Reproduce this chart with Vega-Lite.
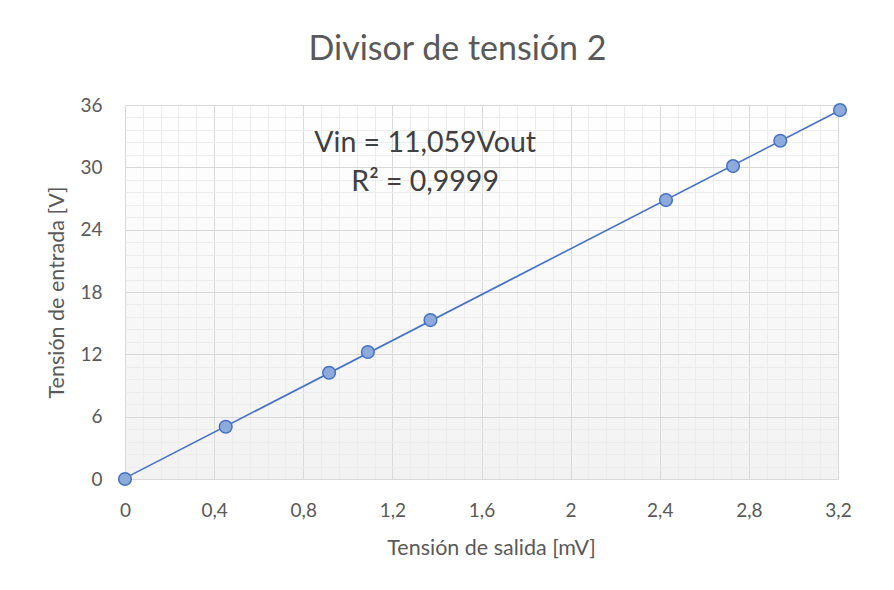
{
  "$schema": "https://vega.github.io/schema/vega-lite/v6.json",
  "width": 713,
  "height": 374,
  "autosize": {"type": "none"},
  "padding": {"left": 125, "top": 105, "right": 56, "bottom": 111},
  "background": "white",
  "config": {
    "font": "Lato",
    "view": {
      "stroke": null,
      "fill": {"gradient": "linear", "x1": 0, "y1": 0, "x2": 0, "y2": 1, "stops": [{"offset": 0, "color": "#ffffff"}, {"offset": 1, "color": "#f2f2f2"}]}
    }
  },
  "title": {
    "text": "Divisor de tensión 2",
    "font": "Lato",
    "fontSize": 34,
    "fontWeight": "normal",
    "color": "#595959",
    "anchor": "middle",
    "frame": "group",
    "dx": -24,
    "offset": 29
  },
  "data": {
    "values": [
      {"vout": 0, "vin": 0},
      {"vout": 0.452, "vin": 5.03},
      {"vout": 0.916, "vin": 10.23},
      {"vout": 1.09, "vin": 12.22},
      {"vout": 1.371, "vin": 15.3},
      {"vout": 2.428, "vin": 26.85},
      {"vout": 2.729, "vin": 30.12},
      {"vout": 2.941, "vin": 32.56},
      {"vout": 3.209, "vin": 35.51}
    ]
  },
  "layer": [
    {
      "transform": [{"regression": "vin", "on": "vout", "method": "linear", "extent": [0, 3.209]}],
      "mark": {"type": "line", "color": "#4472c4", "strokeWidth": 1.6},
      "encoding": {
        "x": {
          "field": "vout", "type": "quantitative",
          "scale": {"domain": [0, 3.2], "nice": false, "zero": true},
          "axis": {
            "orient": "top",
            "values": [0.08,0.16,0.24,0.32,0.48,0.56,0.64,0.72,0.88,0.96,1.04,1.12,1.28,1.36,1.44,1.52,1.68,1.76,1.84,1.92,2.08,2.16,2.24,2.32,2.48,2.56,2.64,2.72,2.88,2.96,3.04,3.12],
            "grid": true, "gridColor": "#ececec", "gridWidth": 1,
            "labels": false, "ticks": false, "domain": false, "title": null
          }
        },
        "y": {
          "field": "vin", "type": "quantitative",
          "scale": {"domain": [0, 36], "nice": false},
          "axis": {
            "orient": "right",
            "values": [1.2,2.4,3.6,4.8,7.2,8.4,9.6,10.8,13.2,14.4,15.6,16.8,19.2,20.4,21.6,22.8,25.2,26.4,27.6,28.8,31.2,32.4,33.6,34.8],
            "grid": true, "gridColor": "#ececec", "gridWidth": 1,
            "labels": false, "ticks": false, "domain": false, "title": null
          }
        }
      }
    },
    {
      "mark": {"type": "point", "shape": "circle", "filled": true, "size": 160, "fill": "#8eaadb", "fillOpacity": 1, "stroke": "#4472c4", "strokeWidth": 1.5, "opacity": 1},
      "encoding": {
        "x": {
          "field": "vout", "type": "quantitative",
          "axis": {
            "orient": "bottom",
            "values": [0, 0.4, 0.8, 1.2, 1.6, 2, 2.4, 2.8, 3.2],
            "labelExpr": "replace(format(datum.value, '~g'), '.', ',')",
            "labelFlush": false, "labelOverlap": false,
            "grid": true, "gridColor": "#d9d9d9", "gridWidth": 1,
            "ticks": false, "domain": false,
            "labelFont": "Lato", "labelFontSize": 19, "labelColor": "#595959", "labelPadding": 22,
            "title": "Tensión de salida [mV]",
            "titleFont": "Lato", "titleFontSize": 21.5, "titleFontWeight": "normal", "titleColor": "#595959",
            "titleBaseline": "middle", "titleX": 366, "titleY": 69
          }
        },
        "y": {
          "field": "vin", "type": "quantitative",
          "axis": {
            "orient": "left",
            "values": [0, 6, 12, 18, 24, 30, 36],
            "labelFlush": false, "labelOverlap": false,
            "grid": true, "gridColor": "#d9d9d9", "gridWidth": 1,
            "ticks": false, "domain": false,
            "labelFont": "Lato", "labelFontSize": 19, "labelColor": "#595959", "labelPadding": 23,
            "title": "Tensión de entrada [V]",
            "titleFont": "Lato", "titleFontSize": 21.5, "titleFontWeight": "normal", "titleColor": "#595959",
            "titleBaseline": "middle", "titleX": -68
          }
        }
      }
    },
    {
      "data": {"values": [{"eq": "Vin = 11,059Vout", "r2": "R² = 0,9999"}]},
      "mark": {"type": "text", "font": "Lato", "fontSize": 28.5, "color": "#404040", "align": "center", "baseline": "middle"},
      "encoding": {
        "x": {"datum": 1.347, "type": "quantitative", "axis": null},
        "y": {"datum": 32.3, "type": "quantitative", "axis": null},
        "text": {"field": "eq"}
      }
    },
    {
      "data": {"values": [{"eq": "Vin = 11,059Vout", "r2": "R² = 0,9999"}]},
      "mark": {"type": "text", "font": "Lato", "fontSize": 28.5, "color": "#404040", "align": "center", "baseline": "middle"},
      "encoding": {
        "x": {"datum": 1.347, "type": "quantitative", "axis": null},
        "y": {"datum": 28.6, "type": "quantitative", "axis": null},
        "text": {"field": "r2"}
      }
    }
  ],
  "resolve": {"axis": {"x": "independent", "y": "independent"}}
}
